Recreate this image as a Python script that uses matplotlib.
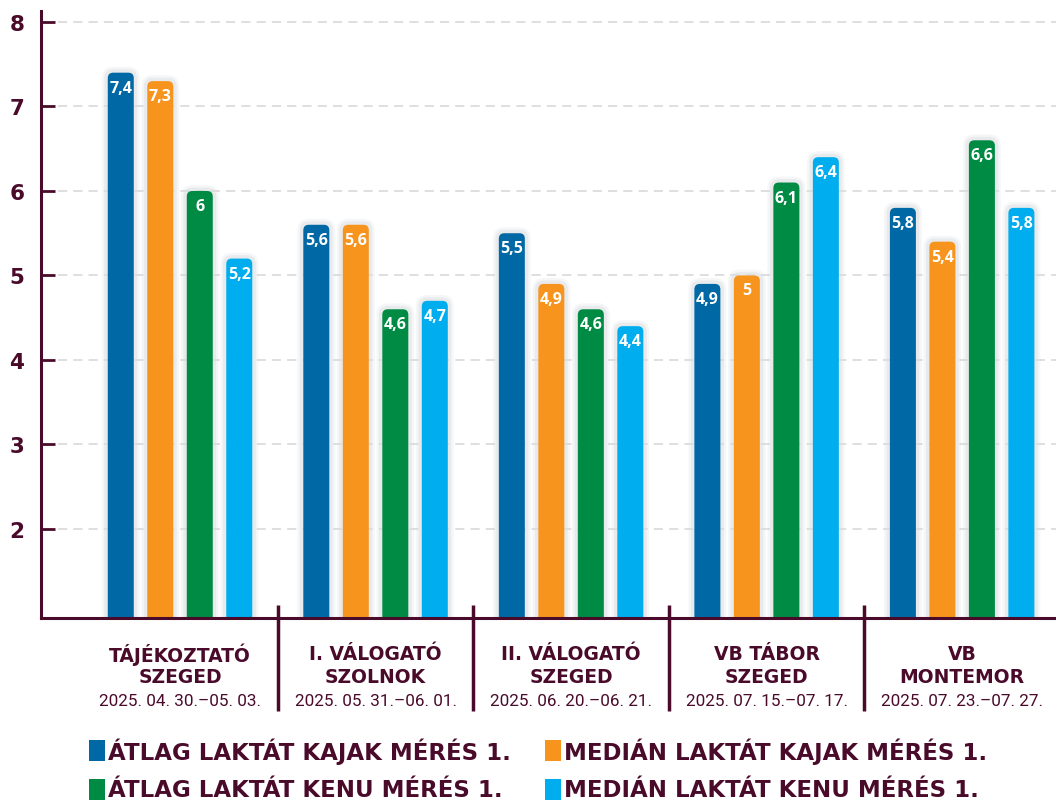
import matplotlib
matplotlib.use('Agg')
import matplotlib.pyplot as plt
import matplotlib.transforms as mtransforms
from matplotlib.patches import FancyBboxPatch, Rectangle

# data
groups = [['TÁJÉKOZTATÓ', 'SZEGED'], ['I. VÁLOGATÓ', 'SZOLNOK'], ['II. VÁLOGATÓ', 'SZEGED'],
          ['VB TÁBOR', 'SZEGED'], ['VB', 'MONTEMOR']]
dates = ['2025. 04. 30.–05. 03.', '2025. 05. 31.–06. 01.', '2025. 06. 20.–06. 21.',
         '2025. 07. 15.–07. 17.', '2025. 07. 23.–07. 27.']
series_names = ['ÁTLAG LAKTÁT KAJAK MÉRÉS 1.', 'MEDIÁN LAKTÁT KAJAK MÉRÉS 1.',
                'ÁTLAG LAKTÁT KENU MÉRÉS 1.', 'MEDIÁN LAKTÁT KENU MÉRÉS 1.']
atlag_kajak = [7.4, 5.6, 5.5, 4.9, 5.8]
median_kajak = [7.3, 5.6, 4.9, 5.0, 5.4]
atlag_kenu = [6.0, 4.6, 4.6, 6.1, 6.6]
median_kenu = [5.2, 4.7, 4.4, 6.4, 5.8]
series = [atlag_kajak, median_kajak, atlag_kenu, median_kenu]
colors = ['#0069a5', '#f7941d', '#008b44', '#00adee']
yticks = [2, 3, 4, 5, 6, 7, 8]

maroon = '#4a0b2b'
W, H = 1056, 804
fig = plt.figure(figsize=(W / 100, H / 100), dpi=100, facecolor='white')
ax = fig.add_axes([41 / W, (H - 619) / H, 1 - 41 / W, (619 - 12) / H])
ax.set_xlim(-0.711, 4.48)
ax.set_ylim(0.946, 8.13)

bar_w = 0.133
offsets = [-0.303, -0.101, 0.101, 0.303]
r = 0.028
asp = (195.5 / 84.45)

# grid
for t in yticks:
    ax.axhline(t, xmin=0.017, color='#d6d6d6', lw=1.1, ls=(0, (6, 4)), zorder=0)

for s, vals in enumerate(series):
    for g, v in enumerate(vals):
        x0 = g + offsets[s] - bar_w / 2
        # soft halo
        for pad, a in [(0.06, 0.25), (0.035, 0.45)]:
            halo = FancyBboxPatch((x0 - pad / 2, 0), bar_w + pad, v + pad * asp * 0.5,
                                  boxstyle=f'round,pad=0,rounding_size={r + pad / 2}',
                                  mutation_aspect=asp, fc='#d9dce0', ec='none',
                                  alpha=a, zorder=1)
            ax.add_patch(halo)
        bar = FancyBboxPatch((x0, 0), bar_w, v,
                             boxstyle=f'round,pad=0,rounding_size={r}',
                             mutation_aspect=asp, fc=colors[s], ec='none', zorder=2)
        ax.add_patch(bar)
        lbl = f'{v:g}'.replace('.', ',')
        ax.annotate(lbl, (g + offsets[s], v), xytext=(0, -15), textcoords='offset pixels',
                    ha='center', va='center', color='white', fontsize=11.5,
                    fontweight='bold', family='Open Sans', zorder=3)

# axes styling
for sp in ['top', 'right']:
    ax.spines[sp].set_visible(False)
for sp in ['left', 'bottom']:
    ax.spines[sp].set_color(maroon)
    ax.spines[sp].set_linewidth(2.2)
ax.set_yticks(yticks)
ax.set_yticklabels([str(t) for t in yticks])
ax.tick_params(axis='y', direction='in', length=10, width=2, color=maroon,
               labelcolor=maroon, labelsize=15.5, pad=12)
for t in ax.get_yticklabels():
    t.set_fontweight('bold')
    t.set_family('DejaVu Sans')
ax.set_xticks([])

# group separators and labels
trans = mtransforms.blended_transform_factory(ax.transData, ax.transAxes)
for sep in [0.5, 1.5, 2.5, 3.5]:
    ax.plot([sep, sep], [0.021, -0.153], transform=trans, color=maroon, lw=2.5,
            clip_on=False, solid_capstyle='butt', zorder=4)
for g, (name, d) in enumerate(zip(groups, dates)):
    ax.text(g, -(655 - 619) / 607, name[0], transform=trans, ha='center', va='center',
            color=maroon, fontsize=13.5, fontweight='bold', family='DejaVu Sans')
    ax.text(g, -(678 - 619) / 607, name[1], transform=trans, ha='center', va='center',
            color=maroon, fontsize=13.5, fontweight='bold', family='DejaVu Sans')
    ax.text(g, -(702 - 619) / 607, d, transform=trans, ha='center', va='center',
            color=maroon, fontsize=12.3, family='Roboto')

# legend
leg_pos = [(89, 752), (545, 752), (89, 791), (545, 791)]
for (px, py), name, c in zip(leg_pos, series_names, colors):
    fig.patches.append(Rectangle((px / W, (H - py - 10) / H), 16 / W, 21 / H,
                                 transform=fig.transFigure, fc=c, ec='none'))
    fig.text((px + 19) / W, (H - py) / H, name, ha='left', va='center', color=maroon,
             fontsize=16.5, fontweight='bold', family='DejaVu Sans')

fig.savefig('out.png', dpi=100, facecolor='white')
